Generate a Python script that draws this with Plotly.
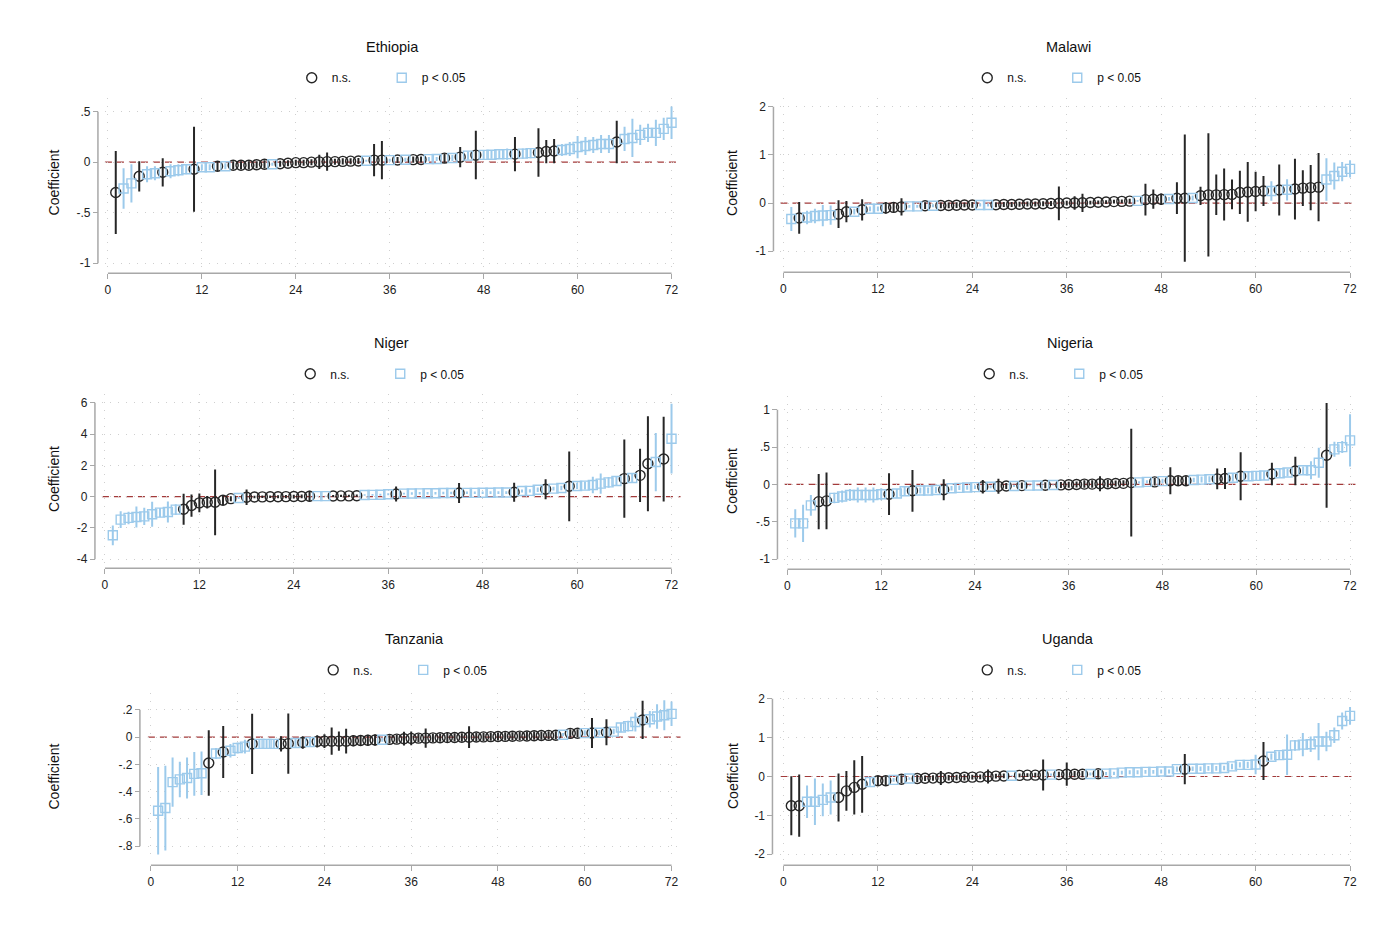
import plotly.graph_objects as go

W, H = 1400, 933
PAGE = 8  # default body margin of the html page
FONT = "Liberation Sans, Arial, sans-serif"
NS_COLOR = "#262626"
SIG_COLOR = "#9ccaeb"
GRID = "#cfcfcf"
AXIS = "#a8a8a8"
REF = "#a33a3a"

rank = list(range(1, 73))
x_ticks = [0, 12, 24, 36, 48, 60, 72]
x_labels = ["0", "12", "24", "36", "48", "60", "72"]

# coefficient and half-width of the 95% CI, sorted by coefficient
eth_coef = [-0.30, -0.26, -0.21, -0.14, -0.12, -0.11, -0.10, -0.09, -0.08, -0.07, -0.07, -0.05,
            -0.05, -0.04, -0.04, -0.03, -0.03, -0.03, -0.025, -0.02, -0.02, -0.015, -0.01, -0.005,
            -0.005, 0.0, 0.003, 0.005, 0.005, 0.008, 0.01, 0.012, 0.014, 0.02, 0.02, 0.02,
            0.022, 0.024, 0.025, 0.026, 0.03, 0.032, 0.04, 0.042, 0.05, 0.065, 0.07, 0.072,
            0.074, 0.078, 0.08, 0.08, 0.085, 0.09, 0.095, 0.105, 0.11, 0.12, 0.13, 0.15,
            0.16, 0.17, 0.18, 0.18, 0.20, 0.23, 0.24, 0.27, 0.29, 0.29, 0.33, 0.39]
eth_half = [0.41, 0.20, 0.19, 0.15, 0.08, 0.07, 0.14, 0.07, 0.06, 0.05, 0.42, 0.03,
            0.03, 0.05, 0.03, 0.04, 0.04, 0.04, 0.035, 0.04, 0.015, 0.03, 0.03, 0.03,
            0.03, 0.03, 0.07, 0.09, 0.03, 0.03, 0.03, 0.03, 0.01, 0.16, 0.19, 0.015,
            0.03, 0.02, 0.03, 0.03, 0.02, 0.02, 0.045, 0.03, 0.10, 0.04, 0.24, 0.04,
            0.04, 0.04, 0.055, 0.17, 0.05, 0.05, 0.24, 0.115, 0.12, 0.06, 0.07, 0.11,
            0.09, 0.08, 0.09, 0.09, 0.21, 0.12, 0.19, 0.10, 0.09, 0.13, 0.11, 0.16]
eth_yticks = [0.5, 0, -0.5, -1]
eth_ylabels = [".5", "0", "-.5", "-1"]

mwi_coef = [-0.33, -0.31, -0.30, -0.27, -0.26, -0.25, -0.23, -0.18, -0.18, -0.14, -0.12, -0.12,
            -0.10, -0.09, -0.08, -0.07, -0.07, -0.055, -0.055, -0.05, -0.05, -0.045, -0.04, -0.04,
            -0.04, -0.04, -0.035, -0.03, -0.03, -0.025, -0.02, -0.02, -0.015, -0.01, -0.005, 0.0,
            0.0, 0.005, 0.01, 0.015, 0.02, 0.03, 0.035, 0.04, 0.045, 0.07, 0.08, 0.08,
            0.085, 0.10, 0.10, 0.105, 0.15, 0.17, 0.17, 0.175, 0.18, 0.22, 0.23, 0.24,
            0.25, 0.25, 0.27, 0.275, 0.29, 0.31, 0.32, 0.33, 0.49, 0.56, 0.65, 0.71]
mwi_half = [0.25, 0.33, 0.14, 0.15, 0.22, 0.20, 0.29, 0.22, 0.06, 0.22, 0.05, 0.05,
            0.12, 0.10, 0.18, 0.03, 0.03, 0.07, 0.03, 0.06, 0.06, 0.06, 0.05, 0.06,
            0.03, 0.03, 0.05, 0.05, 0.05, 0.05, 0.05, 0.05, 0.05, 0.05, 0.35, 0.05,
            0.14, 0.19, 0.04, 0.04, 0.04, 0.04, 0.04, 0.05, 0.02, 0.33, 0.20, 0.12,
            0.04, 0.33, 1.32, 0.05, 0.19, 1.28, 0.42, 0.54, 0.31, 0.45, 0.62, 0.41,
            0.31, 0.20, 0.53, 0.22, 0.63, 0.37, 0.47, 0.71, 0.44, 0.28, 0.20, 0.18]
mwi_yticks = [2, 1, 0, -1]
mwi_ylabels = ["2", "1", "0", "-1"]

ner_coef = [-2.47, -1.47, -1.36, -1.30, -1.26, -1.13, -1.02, -0.98, -0.83, -0.81, -0.57, -0.40,
            -0.36, -0.36, -0.23, -0.13, -0.09, -0.04, -0.02, -0.015, -0.01, -0.005, 0.0, 0.005,
            0.01, 0.02, 0.03, 0.035, 0.04, 0.045, 0.05, 0.06, 0.10, 0.11, 0.12, 0.15,
            0.17, 0.19, 0.20, 0.21, 0.22, 0.22, 0.23, 0.23, 0.23, 0.24, 0.24, 0.25,
            0.25, 0.26, 0.26, 0.28, 0.36, 0.37, 0.44, 0.47, 0.51, 0.55, 0.66, 0.68,
            0.70, 0.74, 0.83, 0.91, 1.00, 1.15, 1.19, 1.36, 2.10, 2.21, 2.40, 3.70]
ner_half = [0.63, 0.53, 0.40, 0.67, 0.55, 0.80, 0.30, 0.67, 0.35, 0.99, 0.71, 0.60,
            0.40, 2.10, 0.30, 0.16, 0.06, 0.50, 0.08, 0.08, 0.08, 0.10, 0.10, 0.12,
            0.12, 0.35, 0.02, 0.02, 0.07, 0.07, 0.07, 0.07, 0.05, 0.05, 0.06, 0.06,
            0.48, 0.06, 0.08, 0.08, 0.08, 0.08, 0.08, 0.08, 0.64, 0.08, 0.08, 0.08,
            0.09, 0.09, 0.09, 0.60, 0.10, 0.10, 0.15, 0.64, 0.12, 0.15, 2.23, 0.20,
            0.25, 0.53, 0.64, 0.35, 0.30, 2.50, 0.30, 1.70, 3.03, 1.86, 2.71, 2.23]
ner_yticks = [6, 4, 2, 0, -2, -4]
ner_ylabels = ["6", "4", "2", "0", "-2", "-4"]

nga_coef = [-0.52, -0.52, -0.28, -0.23, -0.22, -0.18, -0.16, -0.14, -0.14, -0.14, -0.14, -0.13,
            -0.13, -0.12, -0.09, -0.085, -0.08, -0.08, -0.075, -0.07, -0.05, -0.045, -0.04, -0.035,
            -0.03, -0.03, -0.025, -0.02, -0.02, -0.015, -0.015, -0.013, -0.01, -0.008, -0.006, -0.004,
            0.0, 0.005, 0.005, 0.01, 0.01, 0.012, 0.015, 0.025, 0.028, 0.035, 0.035, 0.045,
            0.05, 0.05, 0.05, 0.06, 0.065, 0.07, 0.075, 0.08, 0.09, 0.11, 0.11, 0.115,
            0.12, 0.14, 0.15, 0.16, 0.18, 0.19, 0.19, 0.29, 0.39, 0.47, 0.50, 0.59]
nga_half = [0.19, 0.25, 0.14, 0.37, 0.38, 0.07, 0.08, 0.08, 0.10, 0.10, 0.10, 0.08,
            0.28, 0.06, 0.06, 0.28, 0.04, 0.04, 0.04, 0.14, 0.03, 0.03, 0.03, 0.025,
            0.09, 0.02, 0.10, 0.04, 0.015, 0.04, 0.01, 0.01, 0.04, 0.006, 0.04, 0.04,
            0.04, 0.05, 0.05, 0.10, 0.05, 0.04, 0.04, 0.72, 0.015, 0.02, 0.05, 0.03,
            0.18, 0.06, 0.06, 0.03, 0.04, 0.04, 0.14, 0.14, 0.05, 0.32, 0.06, 0.06,
            0.06, 0.15, 0.06, 0.05, 0.19, 0.05, 0.12, 0.20, 0.70, 0.10, 0.08, 0.35]
nga_yticks = [1, 0.5, 0, -0.5, -1]
nga_ylabels = ["1", ".5", "0", "-.5", "-1"]

tza_coef = [-0.54, -0.52, -0.33, -0.31, -0.30, -0.27, -0.265, -0.19, -0.12, -0.11, -0.10, -0.08,
            -0.07, -0.05, -0.05, -0.05, -0.05, -0.05, -0.048, -0.044, -0.04, -0.036, -0.032, -0.03,
            -0.03, -0.03, -0.03, -0.027, -0.025, -0.024, -0.022, -0.02, -0.017, -0.015, -0.012, -0.01,
            -0.008, -0.008, -0.006, -0.005, -0.004, -0.003, -0.002, -0.001, 0.0, 0.001, 0.003, 0.004,
            0.005, 0.006, 0.007, 0.008, 0.01, 0.011, 0.012, 0.013, 0.017, 0.027, 0.028, 0.029,
            0.03, 0.032, 0.035, 0.04, 0.07, 0.08, 0.11, 0.125, 0.13, 0.15, 0.16, 0.17]
tza_half = [0.32, 0.31, 0.18, 0.13, 0.15, 0.16, 0.16, 0.24, 0.04, 0.19, 0.05, 0.04,
            0.05, 0.22, 0.03, 0.03, 0.03, 0.055, 0.22, 0.03, 0.045, 0.03, 0.045, 0.05,
            0.10, 0.07, 0.09, 0.04, 0.04, 0.04, 0.04, 0.015, 0.03, 0.03, 0.05, 0.05,
            0.03, 0.07, 0.03, 0.03, 0.04, 0.03, 0.03, 0.08, 0.03, 0.03, 0.03, 0.03,
            0.03, 0.03, 0.03, 0.03, 0.03, 0.03, 0.03, 0.03, 0.012, 0.03, 0.03, 0.02,
            0.11, 0.02, 0.095, 0.02, 0.035, 0.04, 0.07, 0.14, 0.06, 0.09, 0.11, 0.09]
tza_yticks = [0.2, 0, -0.2, -0.4, -0.6, -0.8]
tza_ylabels = [".2", "0", "-.2", "-.4", "-.6", "-.8"]

uga_coef = [-0.75, -0.75, -0.65, -0.65, -0.60, -0.54, -0.54, -0.37, -0.28, -0.20, -0.14, -0.11,
            -0.11, -0.085, -0.07, -0.05, -0.05, -0.045, -0.04, -0.035, -0.03, -0.025, -0.02, -0.015,
            -0.01, 0.0, 0.01, 0.015, 0.02, 0.03, 0.035, 0.035, 0.04, 0.05, 0.05, 0.06,
            0.06, 0.06, 0.065, 0.07, 0.075, 0.08, 0.10, 0.11, 0.11, 0.12, 0.12, 0.13,
            0.13, 0.19, 0.19, 0.20, 0.20, 0.21, 0.21, 0.22, 0.26, 0.30, 0.30, 0.31,
            0.40, 0.51, 0.55, 0.56, 0.80, 0.82, 0.83, 0.90, 0.90, 1.06, 1.43, 1.56]
uga_half = [0.76, 0.80, 0.42, 0.60, 0.42, 0.44, 0.62, 0.51, 0.70, 0.73, 0.10, 0.13,
            0.12, 0.05, 0.10, 0.03, 0.09, 0.07, 0.07, 0.18, 0.07, 0.07, 0.08, 0.06,
            0.06, 0.18, 0.06, 0.06, 0.015, 0.05, 0.05, 0.06, 0.40, 0.03, 0.07, 0.30,
            0.08, 0.08, 0.04, 0.10, 0.04, 0.04, 0.05, 0.05, 0.05, 0.05, 0.05, 0.05,
            0.05, 0.07, 0.39, 0.06, 0.06, 0.06, 0.06, 0.06, 0.07, 0.07, 0.08, 0.25,
            0.49, 0.08, 0.10, 0.52, 0.14, 0.30, 0.20, 0.48, 0.25, 0.20, 0.22, 0.23]
uga_yticks = [2, 1, 0, -1, -2]
uga_ylabels = ["2", "1", "0", "-1", "-2"]

# page geometry (pixels): x of tick 0 / tick 72, plot left / right, y-axis line x,
# two reference y ticks (value, pixel), plot top / bottom, x-axis line y, title y, legend y
panels = [
    ("Ethiopia", eth_coef, eth_half, eth_yticks, eth_ylabels,
     dict(x0=108, x72=672, left=105, right=681, yline=98, ya=(0.5, 112), yb=(-1, 264),
          top=98, bottom=268, xline=274, ty=47, ly=78, ytitle=54)),
    ("Malawi", mwi_coef, mwi_half, mwi_yticks, mwi_ylabels,
     dict(x0=784, x72=1351, left=781, right=1357, yline=774, ya=(2, 107), yb=(-1, 252),
          top=98, bottom=268, xline=273, ty=47, ly=78, ytitle=733)),
    ("Niger", ner_coef, ner_half, ner_yticks, ner_ylabels,
     dict(x0=105, x72=672, left=102, right=681, yline=95, ya=(6, 404), yb=(-4, 561),
          top=395, bottom=566, xline=570, ty=344, ly=375, ytitle=54)),
    ("Nigeria", nga_coef, nga_half, nga_yticks, nga_ylabels,
     dict(x0=788, x72=1351, left=785, right=1357, yline=778, ya=(1, 411), yb=(-1, 561),
          top=397, bottom=567, xline=571, ty=344, ly=375, ytitle=733)),
    ("Tanzania", tza_coef, tza_half, tza_yticks, tza_ylabels,
     dict(x0=151, x72=672, left=148, right=681, yline=140, ya=(0.2, 712), yb=(-0.8, 849),
          top=695, bottom=863, xline=868, ty=641, ly=672, ytitle=54)),
    ("Uganda", uga_coef, uga_half, uga_yticks, uga_ylabels,
     dict(x0=784, x72=1351, left=781, right=1357, yline=773, ya=(2, 701), yb=(-2, 857),
          top=693, bottom=863, xline=868, ty=641, ly=672, ytitle=733)),
]


def lin(p, pa, pb, va, vb):
    return va + (p - pa) * (vb - va) / (pb - pa)


def px(x):
    return (x - PAGE) / W


def py(y):
    return 1 - (y - PAGE) / H


fig = go.Figure()
shapes = []
annotations = []
layout = {}

for i, (name, coef, half, yticks, ylabels, g) in enumerate(panels, start=1):
    sfx = "" if i == 1 else str(i)
    xa, ya, leg = "x" + sfx, "y" + sfx, "legend" + sfx

    # n.s. = CI covers zero, otherwise p < 0.05
    for sig, label, sym, col, size in [(False, "n.s.", "circle-open", NS_COLOR, 10),
                                       (True, "p < 0.05", "square-open", SIG_COLOR, 9)]:
        idx = [k for k in range(len(coef)) if (abs(coef[k]) > half[k]) == sig]
        fig.add_trace(go.Scatter(
            x=[rank[k] for k in idx], y=[coef[k] for k in idx],
            mode="markers", name=label, legend=leg,
            xaxis=xa, yaxis=ya, cliponaxis=False,
            marker=dict(symbol=sym, size=size, color=col, line=dict(color=col, width=1.4)),
            error_y=dict(type="data", array=[half[k] for k in idx], color=col,
                         thickness=2, width=0),
        ))

    xr = [lin(g["left"], g["x0"], g["x72"], 0, 72), lin(g["right"], g["x0"], g["x72"], 0, 72)]
    (va, pa), (vb, pb) = g["ya"], g["yb"]
    yr = [lin(g["bottom"], pa, pb, va, vb), lin(g["top"], pa, pb, va, vb)]

    tickfont = dict(family=FONT, size=12, color="#222")
    layout["xaxis" + sfx] = dict(
        domain=[px(g["left"]), px(g["right"])], range=xr, anchor="free",
        position=py(g["xline"]), tickvals=x_ticks, ticktext=x_labels,
        ticks="outside", ticklen=5, tickcolor=AXIS, tickfont=tickfont,
        showline=False, zeroline=False, showgrid=True, gridcolor=GRID, griddash="1px,7px",
        gridwidth=1,
    )
    layout["yaxis" + sfx] = dict(
        domain=[py(g["bottom"]), py(g["top"])], range=yr, anchor="free",
        position=px(g["yline"]), tickvals=yticks, ticktext=ylabels,
        ticks="outside", ticklen=5, tickcolor=AXIS, tickfont=tickfont,
        showline=False, zeroline=False, showgrid=True, gridcolor=GRID, griddash="1px,7px",
        gridwidth=1,
    )

    # axis lines spanning the tick range, offset from the plot region
    shapes.append(dict(type="line", xref="paper", yref=ya, x0=px(g["yline"]), x1=px(g["yline"]),
                       y0=min(yticks), y1=max(yticks), line=dict(color=AXIS, width=1.5)))
    shapes.append(dict(type="line", xref=xa, yref="paper", x0=0, x1=72,
                       y0=py(g["xline"]), y1=py(g["xline"]),
                       line=dict(color=AXIS, width=1.5)))
    # reference line at zero
    shapes.append(dict(type="line", xref=xa + " domain", yref=ya, x0=0, x1=1, y0=0, y1=0,
                       line=dict(color=REF, width=1.2, dash="7px,5px"), layer="below"))

    cx = (g["left"] + g["right"]) / 2
    annotations.append(dict(text=name, xref="paper", yref="paper", x=px(cx), y=py(g["ty"]),
                            xanchor="center", yanchor="middle", showarrow=False,
                            font=dict(family=FONT, size=14.5, color="#111")))
    annotations.append(dict(text="Coefficient", xref="paper", yref="paper", textangle=-90,
                            x=px(g["ytitle"]), y=py((g["top"] + g["bottom"]) / 2),
                            xanchor="center", yanchor="middle", showarrow=False,
                            font=dict(family=FONT, size=14, color="#111")))

    layout[leg] = dict(orientation="h", x=px(cx - 11), y=py(g["ly"]), xanchor="center",
                       yanchor="middle", font=dict(family=FONT, size=12, color="#111"),
                       bgcolor="rgba(0,0,0,0)", entrywidthmode="pixels", entrywidth=45)

fig.update_layout(
    width=W, height=H, margin=dict(l=0, r=0, t=0, b=0),
    paper_bgcolor="white", plot_bgcolor="white", showlegend=True,
    shapes=shapes, annotations=annotations, **layout,
)

fig.write_html("out.html")
